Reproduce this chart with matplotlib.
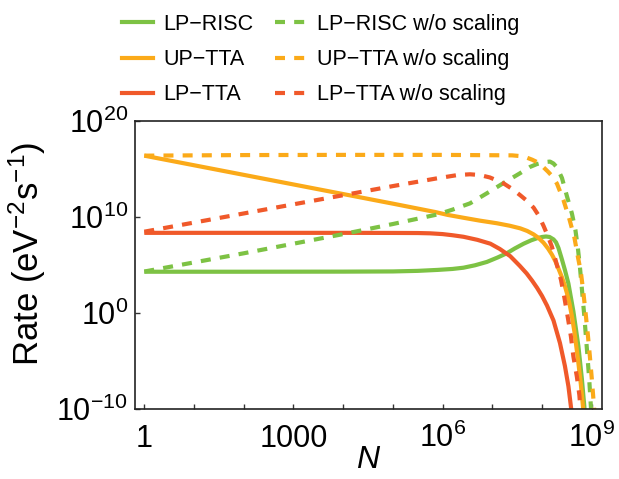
import numpy as np
import matplotlib
matplotlib.use("Agg")
import matplotlib.pyplot as plt
from matplotlib.lines import Line2D

plt.rcParams['font.family'] = ['Liberation Sans', 'DejaVu Sans']
plt.rcParams['mathtext.fontset'] = 'custom'
plt.rcParams['mathtext.rm'] = 'Liberation Sans'
plt.rcParams['mathtext.it'] = 'Liberation Sans:italic'
plt.rcParams['axes.unicode_minus'] = True

# values, as log10(N) and log10(rate)
risc_logn = [0, 2, 4, 5, 5.5, 5.9, 6.2, 6.42, 6.65, 6.89, 7.1, 7.29, 7.45, 7.63, 7.78, 7.9,
             8.0, 8.08, 8.15, 8.23, 8.28, 8.33, 8.4, 8.46, 8.53, 8.63, 8.73, 8.8, 8.85, 8.87]
risc_logr = [4.33, 4.33, 4.34, 4.36, 4.42, 4.52, 4.62, 4.75, 5.0, 5.35, 5.8, 6.25, 6.75, 7.25, 7.6, 7.82,
             7.95, 8.0, 7.95, 7.7, 7.4, 6.8, 5.6, 4.5, 3.1, 0.2, -3.4, -6.8, -9.7, -11]

up_logn = [0, 1, 2, 3, 4, 5, 5.85, 6.1, 6.42, 6.75, 7.09, 7.35, 7.56, 7.7, 7.83, 7.93, 8.03,
           8.12, 8.2, 8.27, 8.33, 8.4, 8.45, 8.5, 8.55, 8.6, 8.65, 8.72, 8.78, 8.83, 8.85]
up_logr = [16.42, 15.42, 14.42, 13.42, 12.42, 11.42, 10.55, 10.25, 9.95, 9.65, 9.38, 9.12, 8.85, 8.58, 8.22, 7.85, 7.35,
           6.75, 6.1, 5.4, 4.65, 3.75, 3.0, 2.1, 1.05, -0.3, -1.9, -4.7, -7.4, -10.1, -11]

lptta_logn = [0, 2, 4, 5, 5.5, 5.75, 6.0, 6.2, 6.42, 6.7, 6.96, 7.15, 7.36, 7.55, 7.69, 7.8,
              7.9, 8.0, 8.1, 8.23, 8.36, 8.46, 8.53, 8.58, 8.61]
lptta_logr = [8.38, 8.38, 8.38, 8.37, 8.36, 8.33, 8.25, 8.13, 7.97, 7.65, 7.25, 6.7, 5.95, 4.95, 4.15, 3.4,
              2.65, 1.8, 0.8, -0.75, -3.1, -5.5, -7.6, -9.7, -11]

risc_ns_logn = [0, 1, 2, 3, 4, 5, 5.9, 6.2, 6.55, 6.89, 7.22, 7.56, 7.76, 7.9, 8.05, 8.16, 8.23,
                8.3, 8.4, 8.5, 8.6, 8.67, 8.72, 8.76, 8.8, 8.85, 8.9, 8.95, 8.99]
risc_ns_logr = [4.35, 5.3, 6.25, 7.25, 8.25, 9.3, 10.3, 10.8, 11.45, 12.5, 13.55, 14.6, 15.25, 15.55, 15.75, 15.8, 15.6,
                15.2, 14.1, 12.2, 10.4, 8.7, 6.8, 4.9, 2.6, -0.3, -3.6, -7.0, -10.4]

up_ns_logn = [0, 2, 4, 6, 7.4, 7.55, 7.7, 7.8, 7.9, 8.0, 8.05, 8.12, 8.2, 8.3, 8.43, 8.55,
              8.65, 8.72, 8.78, 8.83, 8.87, 8.92, 8.96, 9.0, 9.04, 9.06]
up_ns_logr = [16.42, 16.48, 16.5, 16.5, 16.45, 16.38, 16.2, 16.0, 15.75, 15.35, 15.1, 14.75, 14.3, 13.5, 11.8, 9.8,
              7.9, 5.9, 4.3, 2.2, 0.3, -2.2, -4.4, -6.8, -9.4, -10.8]

lptta_ns_logn = [0, 1, 2, 3, 4, 5, 5.88, 6.0, 6.3, 6.55, 6.75, 6.95, 7.22, 7.4, 7.56, 7.7,
                 7.83, 7.93, 8.03, 8.12, 8.2, 8.3, 8.38, 8.45, 8.52, 8.58, 8.63, 8.7, 8.75, 8.78]
lptta_ns_logr = [8.5, 9.45, 10.4, 11.35, 12.3, 13.25, 14.05, 14.15, 14.4, 14.48, 14.4, 14.15, 13.55, 12.95, 12.3, 11.7,
                 11.0, 10.2, 9.1, 8.0, 6.9, 5.0, 3.5, 1.6, -0.5, -2.4, -4.5, -6.6, -8.5, -10.5]

labels = ['LP\u2212RISC', 'UP\u2212TTA', 'LP\u2212TTA']
green = '#7DC244'
orange = '#FBAA19'
red = '#F0592A'
colors = [green, orange, red]

fig = plt.figure(figsize=(6.19, 4.79), dpi=100)
ax = fig.add_axes([0.2181, 0.1455, 0.7540, 0.6013])

solid = [(risc_logn, risc_logr), (up_logn, up_logr), (lptta_logn, lptta_logr)]
dashed = [(risc_ns_logn, risc_ns_logr), (up_ns_logn, up_ns_logr), (lptta_ns_logn, lptta_ns_logr)]

lw = 3.0
for (xn, yr), c in zip(solid, colors):
    ax.plot(np.power(10.0, xn), np.power(10.0, yr), color=c, lw=lw, solid_capstyle='butt')
for (xn, yr), c in zip(dashed, colors):
    ax.plot(np.power(10.0, xn), np.power(10.0, yr), color=c, lw=lw, dashes=(2.4, 2.2),
            dash_capstyle='butt')

ax.set_xscale('log')
ax.set_yscale('log')
ax.set_xlim(10 ** -0.187, 10 ** 9.2)
ax.set_ylim(1e-10, 1e20)

ax.set_xticks([1, 1e3, 1e6, 1e9])
ax.set_xticklabels(['1', '1000', r'$10^{6}$', r'$10^{9}$'])
ax.set_xticks([10.0 ** k for k in [1, 2, 4, 5, 7, 8]], minor=True)
ax.set_xticklabels([], minor=True)
ax.set_yticks([1e-10, 1, 1e10, 1e20])
ax.set_yticklabels([r'$10^{-10}$', r'$10^{0}$', r'$10^{10}$', r'$10^{20}$'])
ax.yaxis.set_minor_locator(matplotlib.ticker.NullLocator())

ax.tick_params(which='both', direction='in', length=3.5, width=1.0, color='#333333')
ax.tick_params(axis='x', labelsize=22, pad=27)
ax.tick_params(axis='y', labelsize=22, pad=5)
for t in ax.xaxis.get_major_ticks():
    t.label1.set_verticalalignment('baseline')
for t in ax.yaxis.get_major_ticks():
    t.label1.set_verticalalignment('center_baseline')

for s in ax.spines.values():
    s.set_linewidth(1.2)
    s.set_color('#222222')

ax.set_xlabel('$N$', fontsize=23, labelpad=-6)
ax.set_ylabel(r'Rate (eV$^{-2}$s$^{-1}$)', fontsize=25)
ax.yaxis.set_label_coords(-0.186, 0.541)

handles = []
names = []
for c, lab in zip(colors, labels):
    handles.append(Line2D([], [], color=c, lw=lw))
    names.append(lab)
for c, lab in zip(colors, labels):
    handles.append(Line2D([], [], color=c, lw=lw, dashes=(2.4, 2.2)))
    names.append(lab + ' w/o scaling')

fig.legend(handles, names, ncol=2, loc='upper left', bbox_to_anchor=(122 / 619, 1 - 14 / 479),
           frameon=False, fontsize=15.5, handlelength=1.45, handletextpad=0.48,
           columnspacing=1.0, labelspacing=0.66, borderpad=0, borderaxespad=0)

fig.savefig('out.png', dpi=100)
